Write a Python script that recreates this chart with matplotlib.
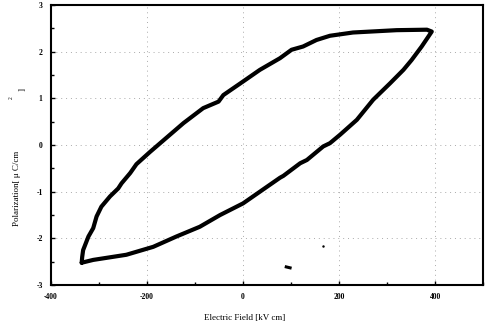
import matplotlib
matplotlib.use('Agg')

import numpy as np
import matplotlib.pyplot as plt
from matplotlib.ticker import MultipleLocator

# Hysteresis loop (kV/cm, uC/cm2)
upperE = [-336, -335, -333, -322, -312, -305, -295, -277, -260, -253, -235, -222,
          -194, -124, -83, -51, -41, 0, 35, 77, 101, 125, 153, 181, 229, 320, 383, 393]
upperP = [-2.52, -2.40, -2.25, -1.96, -1.78, -1.53, -1.32, -1.10, -0.93, -0.82, -0.60,
          -0.41, -0.15, 0.47, 0.79, 0.93, 1.07, 1.36, 1.61, 1.86, 2.04, 2.11, 2.25, 2.34,
          2.41, 2.46, 2.47, 2.43]
lowerE = [393, 372, 351, 334, 306, 271, 237, 202, 181, 167, 133, 119, 84, 77, 35, 0,
          -48, -90, -139, -187, -243, -312, -336]
lowerP = [2.43, 2.11, 1.82, 1.61, 1.32, 0.97, 0.54, 0.22, 0.04, -0.03, -0.32, -0.39,
          -0.66, -0.70, -1.00, -1.25, -1.50, -1.75, -1.96, -2.18, -2.35, -2.46, -2.52]

xTicks = [-400, -200, 0, 200, 400]
yTicks = [-3, -2, -1, 0, 1, 2, 3]

serif = 'Liberation Serif'

fig = plt.figure(figsize=(4.9, 3.3), dpi=100)
ax = fig.add_axes([0.104, 0.136, 0.882, 0.849])

ax.plot(upperE + lowerE[1:], upperP + lowerP[1:], color='black', lw=3.0,
        solid_joinstyle='round', solid_capstyle='round')
# scanning specks
ax.plot([90, 98], [-2.61, -2.63], color='black', lw=2.2)
ax.plot([167], [-2.16], 'k.', ms=1.5)

ax.set_xlim(-400, 500)
ax.set_ylim(-3, 3)
ax.set_xticks(xTicks)
ax.set_yticks(yTicks)
ax.xaxis.set_minor_locator(MultipleLocator(100))
ax.yaxis.set_minor_locator(MultipleLocator(0.5))
ax.tick_params(which='both', direction='in', length=3, width=1, pad=6)
ax.tick_params(which='minor', length=2)
ax.set_xticklabels([str(t) for t in xTicks], fontsize=5.5, family=serif, weight='bold')
ax.set_yticklabels([str(t) for t in yTicks], fontsize=5.5, family=serif, weight='bold')
ax.grid(True, which='major', color='#aaaaaa', ls=(0, (1, 4)), lw=0.7)
for s in ax.spines.values():
    s.set_linewidth(1.5)

fig.text(0.5, 0.035, 'Electric Field [kV cm]', ha='center', va='center',
         fontsize=6.5, family=serif)
fig.text(0.035, 0.43, 'Polarization[ \u03bc C/cm', ha='center', va='center',
         rotation=90, fontsize=6.5, family=serif)
fig.text(0.022, 0.705, '2', ha='center', va='center', rotation=90, fontsize=4,
         family=serif)
fig.text(0.047, 0.73, ']', ha='center', va='center', rotation=90, fontsize=6.5,
         family=serif)

plt.savefig('out.png', dpi=100)
